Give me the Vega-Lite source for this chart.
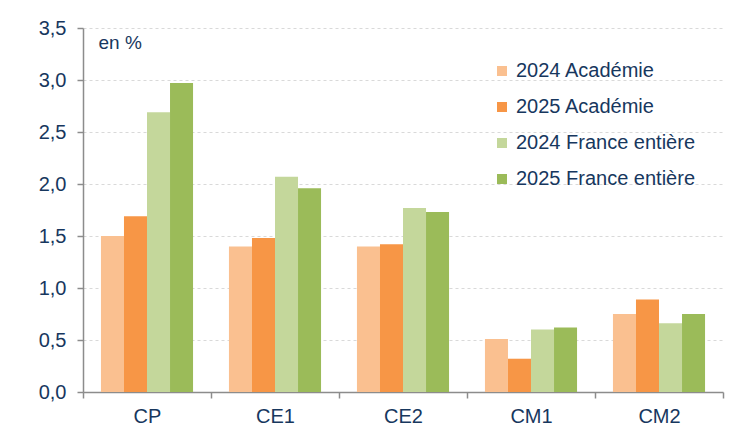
{
  "$schema": "https://vega.github.io/schema/vega-lite/v6.json",
  "width": 640,
  "height": 364,
  "autosize": "none",
  "padding": {"left": 83, "top": 28, "right": 12, "bottom": 40},
  "background": "white",
  "data": {
    "values": [
      {"niveau": "CP", "serie": "2024 Académie", "taux": 1.50},
      {"niveau": "CP", "serie": "2025 Académie", "taux": 1.69},
      {"niveau": "CP", "serie": "2024 France entière", "taux": 2.69},
      {"niveau": "CP", "serie": "2025 France entière", "taux": 2.97},
      {"niveau": "CE1", "serie": "2024 Académie", "taux": 1.40},
      {"niveau": "CE1", "serie": "2025 Académie", "taux": 1.48},
      {"niveau": "CE1", "serie": "2024 France entière", "taux": 2.07},
      {"niveau": "CE1", "serie": "2025 France entière", "taux": 1.96},
      {"niveau": "CE2", "serie": "2024 Académie", "taux": 1.40},
      {"niveau": "CE2", "serie": "2025 Académie", "taux": 1.42},
      {"niveau": "CE2", "serie": "2024 France entière", "taux": 1.77},
      {"niveau": "CE2", "serie": "2025 France entière", "taux": 1.73},
      {"niveau": "CM1", "serie": "2024 Académie", "taux": 0.51},
      {"niveau": "CM1", "serie": "2025 Académie", "taux": 0.32},
      {"niveau": "CM1", "serie": "2024 France entière", "taux": 0.60},
      {"niveau": "CM1", "serie": "2025 France entière", "taux": 0.62},
      {"niveau": "CM2", "serie": "2024 Académie", "taux": 0.75},
      {"niveau": "CM2", "serie": "2025 Académie", "taux": 0.89},
      {"niveau": "CM2", "serie": "2024 France entière", "taux": 0.66},
      {"niveau": "CM2", "serie": "2025 France entière", "taux": 0.75}
    ]
  },
  "mark": {"type": "bar"},
  "encoding": {
    "x": {
      "field": "niveau",
      "type": "nominal",
      "sort": ["CP", "CE1", "CE2", "CM1", "CM2"],
      "scale": {"paddingInner": 0, "paddingOuter": 0},
      "axis": {
        "title": null,
        "labelAngle": 0,
        "labelFontSize": 20,
        "labelPadding": 8,
        "tickBand": "extent",
        "tickSize": 6,
        "grid": false
      }
    },
    "xOffset": {
      "field": "serie",
      "type": "nominal",
      "sort": ["2024 Académie", "2025 Académie", "2024 France entière", "2025 France entière"],
      "scale": {"paddingInner": 0, "paddingOuter": 0.78}
    },
    "y": {
      "field": "taux",
      "type": "quantitative",
      "scale": {"domain": [0, 3.5], "nice": false},
      "axis": {
        "values": [0, 0.5, 1, 1.5, 2, 2.5, 3, 3.5],
        "labelExpr": "replace(format(datum.value, '.1f'), '.', ',')",
        "labelFontSize": 20,
        "labelPadding": 11,
        "tickSize": 6,
        "title": "en %",
        "titleAngle": 0,
        "titleAlign": "left",
        "titleBaseline": "middle",
        "titleX": 15,
        "titleY": 14,
        "titleFontSize": 19,
        "titleFontWeight": "normal",
        "grid": true,
        "gridColor": "#D9D9D9",
        "gridDash": [3, 3],
        "gridWidth": 1
      }
    },
    "color": {
      "field": "serie",
      "type": "nominal",
      "sort": ["2024 Académie", "2025 Académie", "2024 France entière", "2025 France entière"],
      "scale": {
        "domain": ["2024 Académie", "2025 Académie", "2024 France entière", "2025 France entière"],
        "range": ["#FAC090", "#F79646", "#C4D79B", "#9BBB59"]
      },
      "legend": {
        "title": null,
        "orient": "none",
        "legendX": 409,
        "legendY": 33,
        "symbolType": "square",
        "symbolSize": 100,
        "symbolStrokeWidth": 0,
        "labelFontSize": 20,
        "labelOffset": 4,
        "labelLimit": 400,
        "rowPadding": 16
      }
    }
  },
  "config": {
    "font": "Liberation Sans",
    "view": {"stroke": null},
    "axis": {
      "labelColor": "#17375E",
      "titleColor": "#17375E",
      "labelFont": "Liberation Sans",
      "titleFont": "Liberation Sans",
      "domainColor": "#8C8C8C",
      "domainWidth": 1.5,
      "tickColor": "#8C8C8C",
      "tickWidth": 1.5
    },
    "legend": {
      "labelColor": "#17375E",
      "labelFont": "Liberation Sans"
    }
  }
}
